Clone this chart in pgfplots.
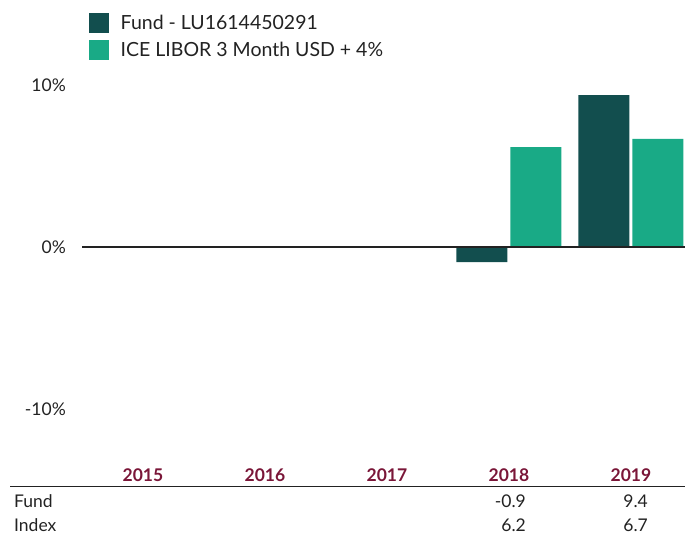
\documentclass[border=0pt]{standalone}
\usepackage{pgfplots}
\pgfplotsset{compat=1.18}
\usepackage{fontspec}
\setmainfont{Lato}
\definecolor{fund}{RGB}{18,78,78}
\definecolor{idx}{RGB}{25,170,134}
\definecolor{yr}{RGB}{122,22,56}
\definecolor{txt}{RGB}{34,34,34}
\newcommand{\fs}{\fontsize{17.5pt}{20pt}\selectfont}
\newcommand{\fl}{\fontsize{19.5pt}{22pt}\selectfont}
\begin{document}
\begin{tikzpicture}
\path[use as bounding box] (0,0) rectangle (685pt,-534pt);
\begin{axis}[
 at={(82pt,-458.1pt)}, anchor=south west,
 scale only axis, width=603pt, height=380.7pt,
 xmin=-0.5, xmax=4.443, ymin=-13, ymax=10.5,
 axis line style={draw=none},
 major tick length=0pt,
 xtick={0,1,2,3,4},
 xticklabels={2015,2016,2017,2018,2019},
 xticklabel style={font=\fs\bfseries, text=yr, anchor=base, inner sep=0pt, yshift=-23pt},
 ytick={-10,0,10},
 yticklabels={-10\%,0\%,10\%},
 yticklabel style={font=\fs, text=txt, anchor=east, inner sep=0pt, xshift=-16pt},
 extra y ticks={0}, extra y tick labels={},
 extra y tick style={grid=major, major grid style={txt, line width=2pt}},
 axis on top,
 clip=false,
 legend image code/.code={\fill[#1, draw=none] (0pt,-10pt) rectangle (19.5pt,10pt);},
 legend style={at={(0.0116,1.169)}, anchor=north west, draw=none, fill=none,
   inner sep=0pt, row sep=7pt, /tikz/column sep=12pt, font=\fl, text=txt,
   nodes={inner sep=0pt, anchor=west}},
 legend cell align=left,
]
\addplot[ybar, bar width=51pt, bar shift=-27pt, fill=fund, draw=none] coordinates {(3,-0.9) (4,9.4)};
\addplot[ybar, bar width=51pt, bar shift=27pt, fill=idx, draw=none] coordinates {(3,6.2) (4,6.7)};
\legend{Fund - LU1614450291, ICE LIBOR 3 Month USD + 4\%}
\end{axis}
\draw[txt, line width=1.5pt] (10pt,-486.7pt) -- (685pt,-486.7pt);
\node[font=\fs, text=txt, anchor=base west, inner sep=0pt] at (14pt,-507pt) {Fund};
\node[font=\fs, text=txt, anchor=base west, inner sep=0pt] at (14pt,-531.5pt) {Index};
\node[font=\fs, text=txt, anchor=base east, inner sep=0pt] at (526pt,-507pt) {-0.9};
\node[font=\fs, text=txt, anchor=base east, inner sep=0pt] at (648pt,-507pt) {9.4};
\node[font=\fs, text=txt, anchor=base east, inner sep=0pt] at (526pt,-531.5pt) {6.2};
\node[font=\fs, text=txt, anchor=base east, inner sep=0pt] at (648pt,-531.5pt) {6.7};
\end{tikzpicture}
\end{document}
